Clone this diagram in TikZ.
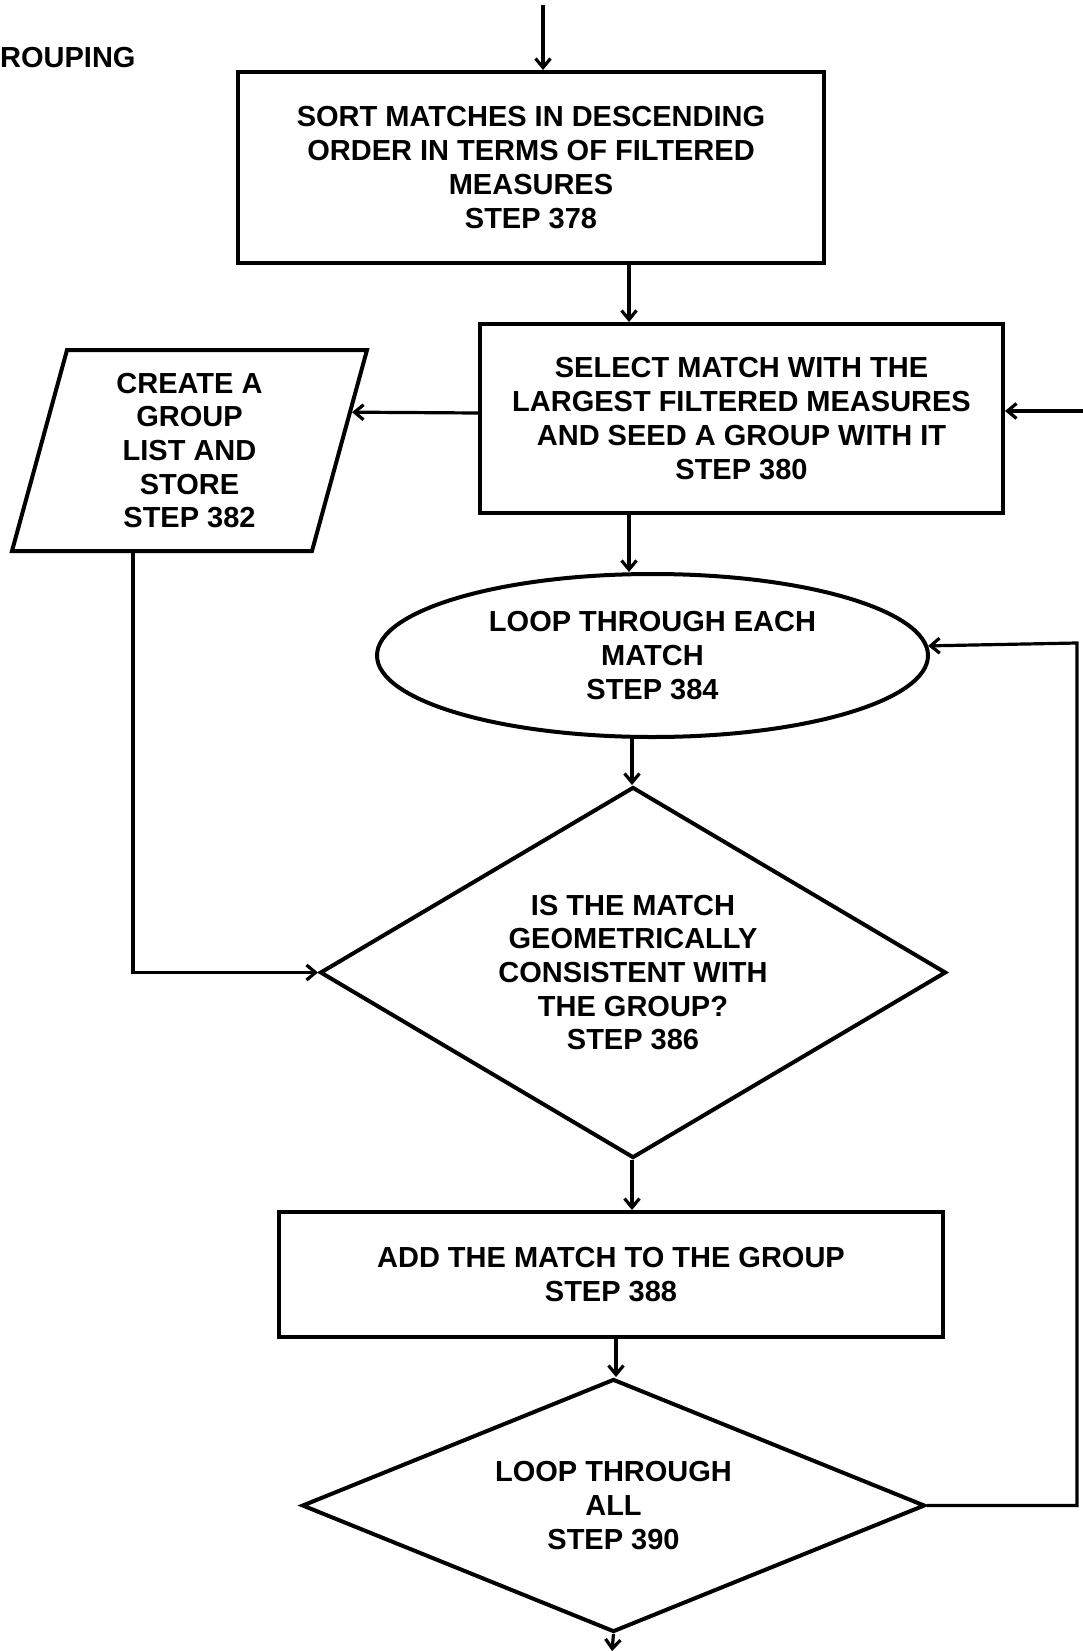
\documentclass[tikz,border=0pt]{standalone}
\usepackage{fontspec}
\setmainfont{Liberation Sans}
\usetikzlibrary{shapes.geometric,arrows.meta,calc}

\begin{document}
\begin{tikzpicture}[x=1pt,y=-1pt,
  every node/.style={font=\bfseries\fontsize{29}{33.7}\selectfont, align=center, inner sep=0pt},
  shapeline/.style={draw, line width=4pt, line join=miter},
  stepbox/.style={shapeline, rectangle},
  decision/.style={shapeline, diamond},
  loopnode/.style={shapeline, ellipse},
  iobox/.style={shapeline, trapezium, trapezium left angle=70.5,
    trapezium right angle=109.5, trapezium stretches body},
  flow/.style={line width=3.2pt, -{Straight Barb[length=9pt,width=15pt]}}
]
\useasboundingbox (0,0) rectangle (1082,1651);

% heading fragment at the left margin
\node[anchor=west] (title) at (0,58) {ROUPING};

% process steps
\node[stepbox, minimum width=586pt, minimum height=191pt] (s378) at (531,167.5)
  {SORT MATCHES IN DESCENDING\\ORDER IN TERMS OF FILTERED\\MEASURES\\STEP 378};
\node[stepbox, minimum width=523pt, minimum height=189pt] (s380) at (741.5,418.5)
  {SELECT MATCH WITH THE\\LARGEST FILTERED MEASURES\\AND SEED A GROUP WITH IT\\STEP 380};
\node[iobox, minimum width=355pt, minimum height=201pt] (s382) at (189.5,450.5)
  {CREATE A\\GROUP\\LIST AND\\STORE\\STEP 382};
\node[loopnode, minimum width=551pt, minimum height=163pt] (s384) at (652.5,655.5)
  {LOOP THROUGH EACH\\MATCH\\STEP 384};
\node[decision, shape aspect=1.687, minimum width=626pt, minimum height=371pt] (s386) at (633,972.5)
  {IS THE MATCH\\GEOMETRICALLY\\CONSISTENT WITH\\THE GROUP?\\STEP 386};
\node[stepbox, minimum width=664pt, minimum height=125pt] (s388) at (611,1274.5)
  {ADD THE MATCH TO THE GROUP\\STEP 388};
\node[decision, shape aspect=2.46, minimum width=623pt, minimum height=253pt] (s390) at (613.5,1505.5)
  {LOOP THROUGH\\ALL\\STEP 390};

% connector end points at the page edges and routing columns
\coordinate (entry) at (543,5);
\coordinate (exit) at (612,1651);
\coordinate (retin) at (1084,411);
\coordinate (loopR) at (1077,643);
\coordinate (colA) at (629,0);
\coordinate (colB) at (632,0);
\coordinate (colC) at (616,0);
\coordinate (colL) at (133,0);

% connectors
\draw[flow] (entry) -- (entry |- s378.north);
\draw[flow] (s378.south -| colA) -- (colA |- s380.north);
\draw[flow] (retin) -- (retin -| s380.east);
\draw[flow] (s380.west |- 0,413) -- ($(s382.top right corner)!0.313!(s382.bottom right corner)$);
\draw[flow] (s380.south -| colA) -- (colA |- s384.north);
\draw[flow] (s384.south -| colB) -- (colB |- s386.north);
\draw[flow] (s382.south -| colL) |- (s386.west);
\draw[flow] (s386.south -| colB) -- (colB |- s388.north);
\draw[flow] (s388.south -| colC) -- (colC |- s390.north);
\draw[flow] (s390.south) -- (exit);
\draw[flow] (s390.east) -| (loopR) -- (s384.2.6);
\end{tikzpicture}
\end{document}
